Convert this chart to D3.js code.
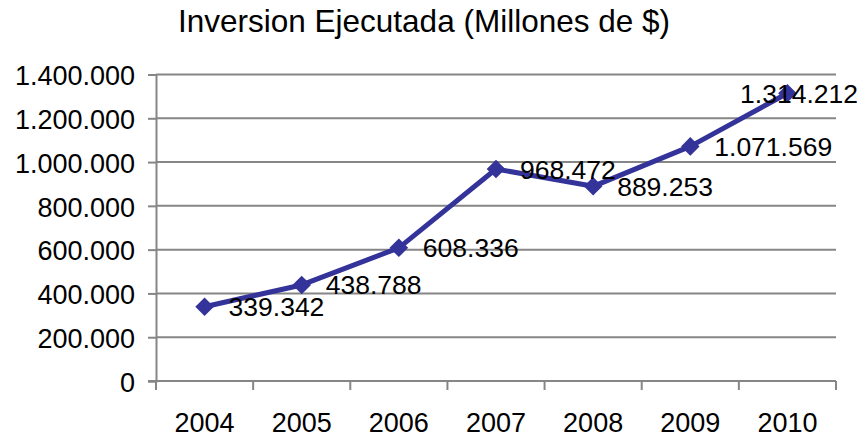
<!DOCTYPE html>
<html>
<head>
<meta charset="utf-8">
<script src="https://cdn.jsdelivr.net/npm/d3@7"></script>
<style>
  html, body { margin: 0; padding: 0; background: #fff; }
  svg { display: block; font-family: "Liberation Sans", Arial, sans-serif; }
</style>
</head>
<body>
<svg id="chart" width="863" height="437"></svg>
<script>
const title = "Inversion Ejecutada (Millones de $)";
const years = ["2004", "2005", "2006", "2007", "2008", "2009", "2010"];
const inversion = [339342, 438788, 608336, 968472, 889253, 1071569, 1314212];
const yTicks = [0, 200000, 400000, 600000, 800000, 1000000, 1200000, 1400000];

const W = 863, H = 437;
const margin = { left: 156, right: 27, top: 74.5, bottom: 56 };
const svg = d3.select("#chart");

const locale = d3.formatLocale({ decimal: ",", thousands: ".", grouping: [3], currency: ["$", ""] });
const fmt = locale.format(",d");

const x = d3.scaleBand().domain(years).range([margin.left, W - margin.right]).paddingInner(0).paddingOuter(0);
const y = d3.scaleLinear().domain([0, 1400000]).range([H - margin.bottom, margin.top]);

const gridColor = "#868686";

// title
svg.append("text")
  .attr("x", 424).attr("y", 32)
  .attr("text-anchor", "middle")
  .attr("font-size", "31.5px")
  .attr("fill", "#000")
  .text(title);

// gridlines
svg.append("g").selectAll("line").data(yTicks.filter(d => d > 0)).join("line")
  .attr("x1", margin.left).attr("x2", W - margin.right)
  .attr("y1", d => y(d)).attr("y2", d => y(d))
  .attr("stroke", gridColor).attr("stroke-width", 2);

// y axis
const yAxis = d3.axisLeft(y).tickValues(yTicks).tickFormat(fmt).tickSize(8).tickPadding(13);
const gy = svg.append("g").attr("transform", `translate(${margin.left},0)`).call(yAxis);
gy.select(".domain").attr("stroke", gridColor).attr("stroke-width", 2);
gy.selectAll(".tick line").attr("stroke", gridColor).attr("stroke-width", 2);
gy.selectAll(".tick text").attr("font-size", "27px").attr("fill", "#000")
  .attr("font-family", "'Liberation Sans', Arial, sans-serif").attr("dy", "0.38em");

// x axis: ticks at category boundaries
const gx = svg.append("g").attr("transform", `translate(0,${y(0)})`);
gx.append("line").attr("x1", margin.left - 8).attr("x2", W - margin.right)
  .attr("y1", 0).attr("y2", 0).attr("stroke", gridColor).attr("stroke-width", 2);
const bounds = years.map(d => x(d)).concat([x(years[years.length - 1]) + x.bandwidth()]);
gx.selectAll("line.tk").data(bounds).join("line").attr("class", "tk")
  .attr("x1", d => d).attr("x2", d => d).attr("y1", 0).attr("y2", 9)
  .attr("stroke", gridColor).attr("stroke-width", 2);
gx.selectAll("text").data(years).join("text")
  .attr("x", d => x(d) + x.bandwidth() / 2)
  .attr("y", 51)
  .attr("text-anchor", "middle")
  .attr("font-size", "27px")
  .attr("fill", "#000")
  .text(d => d);

// line
const color = "#333399";
const pts = years.map((d, i) => ({ year: d, v: inversion[i] }));
const line = d3.line().x(d => x(d.year) + x.bandwidth() / 2).y(d => y(d.v));
svg.append("path").datum(pts).attr("d", line)
  .attr("fill", "none").attr("stroke", color).attr("stroke-width", 5).attr("stroke-linejoin", "round");

// markers
const diamond = d3.symbol().type(d3.symbolDiamond2).size(220);
svg.append("g").selectAll("path").data(pts).join("path")
  .attr("d", diamond)
  .attr("transform", d => `translate(${x(d.year) + x.bandwidth() / 2},${y(d.v)})`)
  .attr("fill", color);

// data labels
const labels = svg.append("g").selectAll("text").data(pts).join("text")
  .attr("font-size", "26.5px")
  .attr("fill", "#000")
  .attr("dy", "0.36em")
  .attr("y", d => y(d.v))
  .text(d => fmt(d.v));
labels.each(function (d) {
  const w = this.getComputedTextLength();
  let lx = x(d.year) + x.bandwidth() / 2 + 24;
  if (lx + w > W - 5) lx = W - 5 - w;
  d3.select(this).attr("x", lx);
});
</script>
</body>
</html>
